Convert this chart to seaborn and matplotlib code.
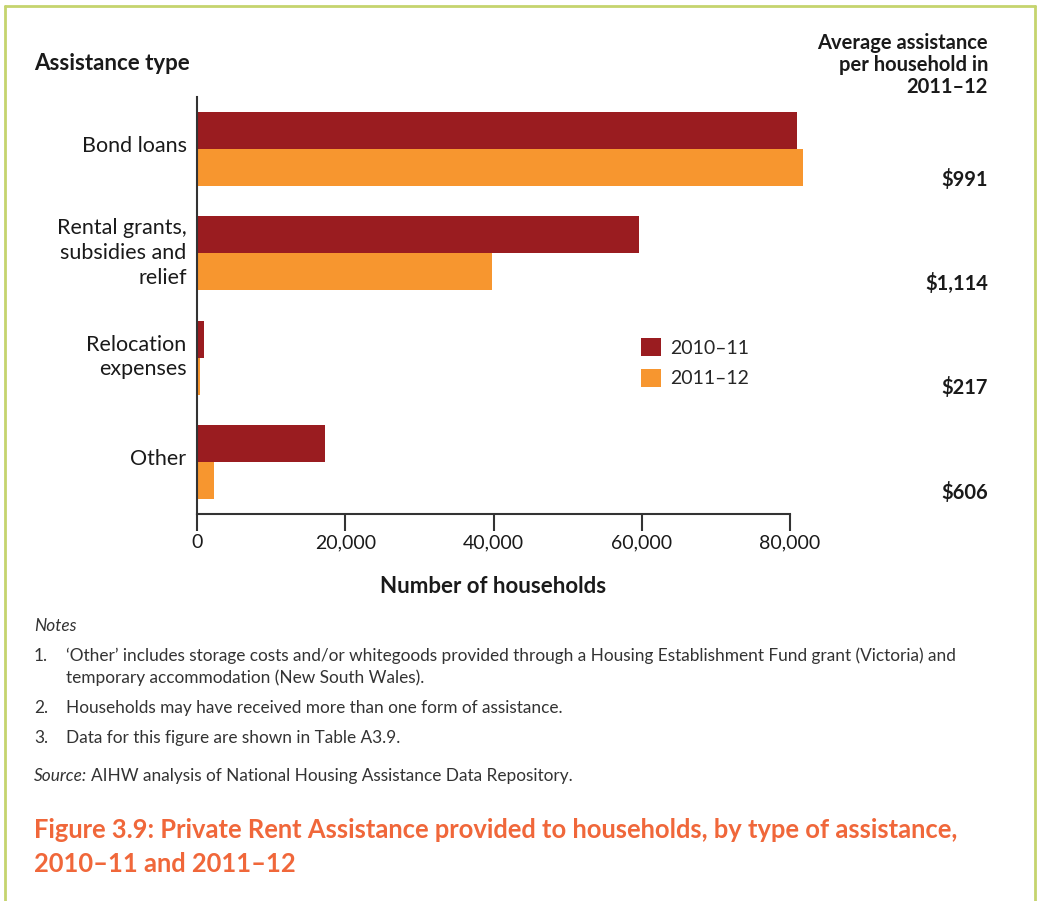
import matplotlib
matplotlib.use("Agg")
import matplotlib.pyplot as plt
import matplotlib.transforms as mtransforms
import seaborn as sns
import pandas as pd
from matplotlib.lines import Line2D
from matplotlib.ticker import FuncFormatter

# ---- data ----
categories = ["Bond loans", "Rental grants,\nsubsidies and\nrelief", "Relocation\nexpenses", "Other"]
years = ["2010–11", "2011–12"]
households_2010_11 = [81000, 59600, 950, 17300]
households_2011_12 = [81800, 39800, 400, 2300]
avg_assistance_2011_12 = ["$991", "$1,114", "$217", "$606"]
x_ticks = [0, 20000, 40000, 60000, 80000]

note_numbers = ["1.", "2.", "3."]
note_texts = [
    ["‘Other’ includes storage costs and/or whitegoods provided through a Housing Establishment Fund grant (Victoria) and",
     "temporary accommodation (New South Wales)."],
    ["Households may have received more than one form of assistance."],
    ["Data for this figure are shown in Table A3.9."],
]
source_text = "AIHW analysis of National Housing Assistance Data Repository."
title_lines = ["Figure 3.9: Private Rent Assistance provided to households, by type of assistance,",
               "2010–11 and 2011–12"]

W, H = 1039, 901
sns.set_style("white")
plt.rcParams["font.family"] = ["Lato", "DejaVu Sans"]

DARK_RED = "#9a1c20"
ORANGE = "#f7962f"
TXT = "#1a1a1a"
NOTE = "#333333"

df = pd.DataFrame({
    "category": categories * 2,
    "value": households_2010_11 + households_2011_12,
    "year": [years[0]] * 4 + [years[1]] * 4,
})

fig = plt.figure(figsize=(W / 100, H / 100), dpi=100)
ax = fig.add_axes([197 / W, 1 - 514 / H, (790 - 197) / W, (514 - 97) / H])

sns.barplot(data=df, y="category", x="value", hue="year", orient="h",
            palette=[DARK_RED, ORANGE], width=0.71, saturation=1,
            order=categories, hue_order=years, ax=ax, errorbar=None)
for p in ax.patches:
    p.set_clip_on(False)
    p.set_linewidth(0)

ax.set_xlim(0, 80000)
ax.set_ylim(3.5, -0.5)
ax.set_xticks(x_ticks)
ax.xaxis.set_major_formatter(FuncFormatter(lambda v, _: f"{int(v):,}"))
ax.tick_params(axis="x", which="both", bottom=True, length=12, width=1.5,
               color="#333333", labelsize=14, labelcolor=TXT, pad=2.5, direction="out")
ax.tick_params(axis="y", left=False, labelsize=15.5, labelcolor=TXT, pad=4)
shift_up = mtransforms.ScaledTranslation(0, 5 / 100, fig.dpi_scale_trans)
for lbl in ax.get_yticklabels():
    lbl.set_multialignment("right")
    lbl.set_linespacing(1.3)
    lbl.set_transform(lbl.get_transform() + shift_up)
for s in ["top", "right"]:
    ax.spines[s].set_visible(False)
for s in ["left", "bottom"]:
    ax.spines[s].set_color("#333333")
    ax.spines[s].set_linewidth(1.5)
ax.set_ylabel("")
ax.set_xlabel("Number of households", fontsize=16, fontweight="bold", color=TXT, labelpad=18)

# legend
handles, labels = ax.get_legend_handles_labels()
ax.legend(handles, labels, loc="upper left", bbox_to_anchor=(641 / W, 1 - 338 / H),
          bbox_transform=fig.transFigure, frameon=False, fontsize=14,
          handlelength=1.05, handleheight=1.05, handletextpad=0.45,
          labelspacing=0.62, borderpad=0, borderaxespad=0)

# average assistance values (right column)
blend = mtransforms.blended_transform_factory(fig.transFigure, ax.transData)
for i, v in enumerate(avg_assistance_2011_12):
    ax.text(988 / W, i + 0.29, v, transform=blend,
            ha="right", va="center", fontsize=14.5, fontweight="bold", color=TXT)

def ft(x, y, s, **kw):
    fig.text(x / W, 1 - y / H, s, **kw)

ft(34, 64, "Assistance type", ha="left", va="center", fontsize=16, fontweight="bold", color=TXT)
ft(988, 65, "Average assistance\nper household in\n2011–12", ha="right", va="center",
   fontsize=14.5, fontweight="bold", color=TXT, multialignment="right", linespacing=1.15)

# notes
NFS = 12.4
ft(34, 626, "Notes", ha="left", va="center", fontsize=NFS, style="italic", color=NOTE)
note_y = [[656, 678], [708], [738]]
for num, lines, ys in zip(note_numbers, note_texts, note_y):
    ft(34, ys[0], num, ha="left", va="center", fontsize=NFS, color=NOTE)
    for line, y in zip(lines, ys):
        ft(66, y, line, ha="left", va="center", fontsize=NFS, color=NOTE)
ft(34, 776, "Source:", ha="left", va="center", fontsize=NFS, style="italic", color=NOTE)
ft(91, 776, source_text, ha="left", va="center", fontsize=NFS, color=NOTE)

# figure title
for line, y in zip(title_lines, [830, 864]):
    ft(34, y, line, ha="left", va="center", fontsize=18.4, fontweight="bold", color="#f0673a")

# green frame
GREEN = "#c5d46e"
fig.add_artist(Line2D([5 / W, 5 / W], [0, 1 - 6 / H], transform=fig.transFigure, color=GREEN, lw=2))
fig.add_artist(Line2D([1035 / W, 1035 / W], [0, 1 - 6 / H], transform=fig.transFigure, color=GREEN, lw=2))
fig.add_artist(Line2D([5 / W, 1035 / W], [1 - 6 / H, 1 - 6 / H], transform=fig.transFigure, color=GREEN, lw=2))

fig.savefig("out.png", dpi=100, facecolor="white")
